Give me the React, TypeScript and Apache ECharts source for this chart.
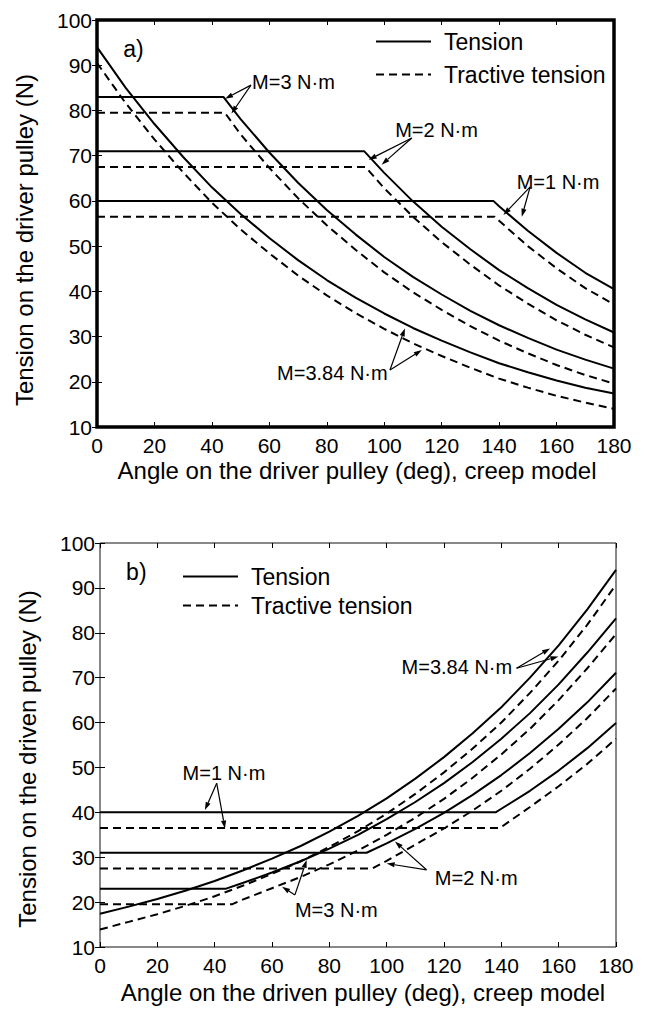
import React, { useEffect, useRef } from "react";
import * as echarts from "echarts";

const FONT = '"Liberation Sans", Arial, Helvetica, sans-serif';

type Pt = [number, number];

// ---------- (a) driver pulley: [angle deg, tension N] ----------
const drvTension384: Pt[] = [[0, 94.0], [10, 85.0], [20, 77.0], [30, 69.7], [40, 63.0], [50, 57.1], [60, 51.8], [70, 46.9], [80, 42.5], [90, 38.6], [100, 35.1], [110, 31.9], [120, 29.1], [130, 26.5], [140, 24.1], [150, 22.1], [160, 20.3], [170, 18.7], [180, 17.4]];
const drvTractive384: Pt[] = [[0, 90.5], [10, 81.6], [20, 73.6], [30, 66.3], [40, 59.6], [50, 53.7], [60, 48.4], [70, 43.5], [80, 39.1], [90, 35.2], [100, 31.7], [110, 28.5], [120, 25.7], [130, 23.1], [140, 20.7], [150, 18.7], [160, 16.9], [170, 15.4], [180, 14.0]];
const drvTension3: Pt[] = [[0, 83], [44, 83], [50, 78.1], [60, 70.7], [70, 64.0], [80, 58.0], [90, 52.6], [100, 47.6], [110, 43.2], [120, 39.3], [130, 35.7], [140, 32.5], [150, 29.7], [160, 27.1], [170, 24.9], [180, 22.9]];
const drvTractive3: Pt[] = [[0, 79.5], [44.5, 79.5], [50, 74.7], [60, 67.3], [70, 60.6], [80, 54.6], [90, 49.2], [100, 44.2], [110, 39.8], [120, 35.9], [130, 32.3], [140, 29.1], [150, 26.3], [160, 23.7], [170, 21.5], [180, 19.6]];
const drvTension2: Pt[] = [[0, 71], [93, 71], [100, 66.2], [110, 59.9], [120, 54.3], [130, 49.3], [140, 44.7], [150, 40.7], [160, 37.0], [170, 33.8], [180, 30.9]];
const drvTractive2: Pt[] = [[0, 67.5], [93.5, 67.5], [100, 62.8], [110, 56.5], [120, 50.9], [130, 45.9], [140, 41.3], [150, 37.3], [160, 33.6], [170, 30.4], [180, 27.6]];
const drvTension1: Pt[] = [[0, 60], [138, 60], [140, 58.8], [150, 53.4], [160, 48.5], [170, 44.1], [180, 40.5]];
const drvTractive1: Pt[] = [[0, 56.5], [138.5, 56.5], [140, 55.6], [150, 50.0], [160, 45.1], [170, 40.7], [180, 37.1]];

// ---------- (b) driven pulley ----------
const dvnTension384: Pt[] = [[0, 17.4], [10, 19.0], [20, 20.7], [30, 22.6], [40, 24.7], [50, 27.1], [60, 29.7], [70, 32.5], [80, 35.7], [90, 39.2], [100, 43.1], [110, 47.5], [120, 52.3], [130, 57.6], [140, 63.4], [150, 70.0], [160, 77.2], [170, 85.2], [180, 94.0]];
const dvnTractive384: Pt[] = [[0, 13.9], [10, 15.6], [20, 17.3], [30, 19.2], [40, 21.3], [50, 23.7], [60, 26.3], [70, 29.1], [80, 32.3], [90, 35.8], [100, 39.7], [110, 44.1], [120, 48.9], [130, 54.2], [140, 60.0], [150, 66.6], [160, 73.8], [170, 81.8], [180, 90.7]];
const dvnTension3: Pt[] = [[0, 23], [44, 23], [50, 24.3], [60, 26.6], [70, 29.1], [80, 31.9], [90, 35.0], [100, 38.5], [110, 42.3], [120, 46.5], [130, 51.2], [140, 56.4], [150, 62.1], [160, 68.5], [170, 75.6], [180, 83.2]];
const dvnTractive3: Pt[] = [[0, 19.5], [46, 19.5], [50, 20.6], [60, 23.1], [70, 25.6], [80, 28.4], [90, 31.5], [100, 35.0], [110, 38.8], [120, 43.0], [130, 47.7], [140, 52.9], [150, 58.6], [160, 65.0], [170, 72.1], [180, 79.7]];
const dvnTension2: Pt[] = [[0, 31], [93, 31], [100, 33.1], [110, 36.3], [120, 39.9], [130, 43.9], [140, 48.3], [150, 53.2], [160, 58.6], [170, 64.5], [180, 71.1]];
const dvnTractive2: Pt[] = [[0, 27.5], [95, 27.5], [100, 29.2], [110, 32.8], [120, 36.4], [130, 40.4], [140, 44.8], [150, 49.7], [160, 55.1], [170, 61.0], [180, 67.6]];
const dvnTension1: Pt[] = [[0, 40], [138, 40], [140, 40.8], [150, 44.8], [160, 49.3], [170, 54.3], [180, 59.9]];
const dvnTractive1: Pt[] = [[0, 36.5], [139.5, 36.5], [150, 41.2], [160, 45.8], [170, 50.8], [180, 56.4]];

const legendNames = ["Tension", "Tractive tension"];
const panelTags = ["a)", "b)"];
const xTitles = [
  "Angle on the driver pulley (deg), creep model",
  "Angle on the driven pulley (deg), creep model",
];
const yTitles = [
  "Tension on the driver pulley (N)",
  "Tension on the driven pulley (N)",
];

// annotations, in data coordinates
type Note = { panel: number; text: string; at: Pt; from: Pt; tips: Pt[] };
const notes: Note[] = [
  { panel: 0, text: "M=3 N\u00b7m", at: [54.0, 86.3], from: [53.6, 85.6], tips: [[44.6, 82.6], [46.8, 79.3]] },
  { panel: 0, text: "M=2 N\u00b7m", at: [103.8, 75.7], from: [109.6, 73.9], tips: [[94.6, 69.1], [99.1, 68.0]] },
  { panel: 0, text: "M=1 N\u00b7m", at: [146.1, 64.2], from: [150.8, 63.1], tips: [[141.5, 56.9], [147.9, 56.5]] },
  { panel: 0, text: "M=3.84 N\u00b7m", at: [62.7, 21.9], from: [102.0, 22.6], tips: [[107.2, 31.8], [113.1, 27.0]] },
  { panel: 1, text: "M=3.84 N\u00b7m", at: [105.2, 72.4], from: [145.3, 72.1], tips: [[157.0, 76.5], [159.9, 74.7]] },
  { panel: 1, text: "M=2 N\u00b7m", at: [116.8, 25.3], from: [113.9, 27.2], tips: [[102.9, 33.5], [100.0, 28.6]] },
  { panel: 1, text: "M=1 N\u00b7m", at: [28.8, 48.7], from: [40.7, 46.5], tips: [[36.6, 40.5], [43.6, 36.4]] },
  { panel: 1, text: "M=3 N\u00b7m", at: [68.0, 18.2], from: [68.0, 21.6], tips: [[63.5, 23.4], [72.1, 29.4]] },
];
const tagPos: Pt = [9.1, 93.5];

const grids = [
  { left: 97, top: 20, width: 517, height: 407, show: true, borderColor: "#000", borderWidth: 3.5 },
  { left: 100, top: 543, width: 516, height: 404, show: true, borderColor: "#111", borderWidth: 1 },
];

function xAx(gi: number, pos: "bottom" | "top") {
  return {
    type: "value", gridIndex: gi, position: pos, min: 0, max: 180, interval: 20,
    axisLine: { show: false },
    axisTick: { show: true, inside: true, length: 5, lineStyle: { color: "#000", width: 1 } },
    axisLabel: { show: pos === "bottom", fontSize: 21, color: "#000", fontFamily: FONT, margin: 8 },
    splitLine: { show: false },
  };
}
function yAx(gi: number, pos: "left" | "right") {
  return {
    type: "value", gridIndex: gi, position: pos, min: 10, max: 100, interval: 10,
    axisLine: { show: false },
    axisTick: { show: true, inside: true, length: 5, lineStyle: { color: "#000", width: 1 } },
    axisLabel: { show: pos === "left", fontSize: 21, color: "#000", fontFamily: FONT, margin: 5 },
    splitLine: { show: false },
  };
}

function line(name: string, data: Pt[], dashed: boolean, gi: number) {
  return {
    type: "line", name, data, xAxisIndex: gi * 2, yAxisIndex: gi * 2,
    symbol: "none", silent: true, animation: false,
    lineStyle: { color: "#000", width: 2, type: dashed ? [8, 5] : "solid" },
    itemStyle: { color: "#000" },
  };
}

function arrowEls(p0: number[], p1: number[]) {
  const dx = p1[0] - p0[0], dy = p1[1] - p0[1];
  const len = Math.hypot(dx, dy) || 1;
  const ux = dx / len, uy = dy / len;
  const L = 8, W = 2.6;
  const bx = p1[0] - ux * L, by = p1[1] - uy * L;
  return [
    { type: "line", shape: { x1: p0[0], y1: p0[1], x2: bx, y2: by }, style: { stroke: "#000", lineWidth: 1.2 }, silent: true },
    { type: "polygon", shape: { points: [[p1[0], p1[1]], [bx - uy * W, by + ux * W], [bx + uy * W, by - ux * W]] }, style: { fill: "#000" }, silent: true },
  ];
}

export default function App() {
  const ref = useRef<HTMLDivElement>(null);
  useEffect(() => {
    if (!ref.current) return;
    const chart = echarts.init(ref.current, undefined, { renderer: "svg" });
    const legendBase = {
      orient: "vertical", itemWidth: 55, itemHeight: 12, selectedMode: false, padding: 0,
      data: legendNames,
      itemStyle: { color: "rgba(0,0,0,0)", borderColor: "rgba(0,0,0,0)", borderWidth: 0 },
      textStyle: { fontSize: 23, color: "#000", fontFamily: FONT, padding: [0, 0, 0, 8] },
    };
    chart.setOption({
      animation: false,
      backgroundColor: "#fff",
      grid: grids,
      xAxis: [xAx(0, "bottom"), xAx(0, "top"), xAx(1, "bottom"), xAx(1, "top")],
      yAxis: [yAx(0, "left"), yAx(0, "right"), yAx(1, "left"), yAx(1, "right")],
      legend: [
        { ...legendBase, left: 375, top: 30, itemGap: 10 },
        { ...legendBase, left: 182, top: 565, itemGap: 6 },
      ],
      series: [
        line("Tension", drvTension384, false, 0),
        line("Tractive tension", drvTractive384, true, 0),
        line("Tension", drvTension3, false, 0),
        line("Tractive tension", drvTractive3, true, 0),
        line("Tension", drvTension2, false, 0),
        line("Tractive tension", drvTractive2, true, 0),
        line("Tension", drvTension1, false, 0),
        line("Tractive tension", drvTractive1, true, 0),
        line("Tension", dvnTension384, false, 1),
        line("Tractive tension", dvnTractive384, true, 1),
        line("Tension", dvnTension3, false, 1),
        line("Tractive tension", dvnTractive3, true, 1),
        line("Tension", dvnTension2, false, 1),
        line("Tractive tension", dvnTractive2, true, 1),
        line("Tension", dvnTension1, false, 1),
        line("Tractive tension", dvnTractive1, true, 1),
      ],
    });

    const toPx = (panel: number, p: Pt) =>
      chart.convertToPixel({ xAxisIndex: panel * 2, yAxisIndex: panel * 2 }, p) as number[];

    const els: any[] = [];
    for (const n of notes) {
      const a = toPx(n.panel, n.at);
      els.push({ type: "text", x: a[0], y: a[1], silent: true, style: { text: n.text, fontSize: 20, fontFamily: FONT, fill: "#000", textAlign: "left", textVerticalAlign: "middle" } });
      const f = toPx(n.panel, n.from);
      for (const t of n.tips) els.push(...arrowEls(f, toPx(n.panel, t)));
    }
    [0, 1].forEach((p) => {
      const t = toPx(p, tagPos);
      els.push({ type: "text", x: t[0], y: t[1], silent: true, style: { text: panelTags[p], fontSize: 23, fontFamily: FONT, fill: "#000", textAlign: "left", textVerticalAlign: "middle" } });
    });
    const xTitlePos = [[357, 470], [363, 992]];
    const yTitlePos = [[24, 240], [27, 759]];
    [0, 1].forEach((p) => {
      els.push({ type: "text", x: xTitlePos[p][0], y: xTitlePos[p][1], silent: true, style: { text: xTitles[p], fontSize: 24, fontFamily: FONT, fill: "#000", textAlign: "center", textVerticalAlign: "middle" } });
      els.push({ type: "text", x: yTitlePos[p][0], y: yTitlePos[p][1], rotation: Math.PI / 2, silent: true, style: { text: yTitles[p], fontSize: 24, fontFamily: FONT, fill: "#000", textAlign: "center", textVerticalAlign: "middle" } });
    });
    chart.setOption({ graphic: { elements: els } });

    return () => chart.dispose();
  }, []);
  return <div ref={ref} style={{ position: "absolute", left: 0, top: 0, width: 647, height: 1009 }} />;
}
